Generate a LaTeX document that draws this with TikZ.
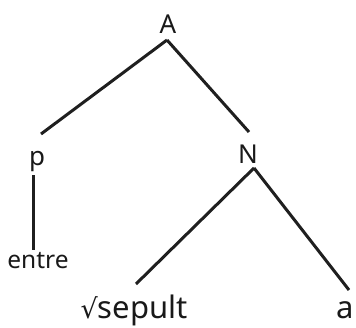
\documentclass[tikz,border=0pt]{standalone}
\usepackage{fontspec}
\setmainfont{Noto Sans}
\newfontfamily\symfont{DejaVu Sans}
\begin{document}
\begin{tikzpicture}[x=1pt,y=-1pt,
  lbl/.style={anchor=base,inner sep=0pt,text=black!90},
  big/.style={lbl,font=\fontsize{26}{26}\selectfont},
  mid/.style={lbl,font=\fontsize{24.5}{24.5}\selectfont},
  lrg/.style={lbl,font=\fontsize{31}{31}\selectfont},
  edge/.style={line width=3pt,draw=black!88}]
\useasboundingbox (0,0) rectangle (356,327);
\node[big] (A) at (168,33) {A};
\node[big] (p) at (37,165) {p};
\node[big] (N) at (248,163) {N};
\node[mid] (entre) at (38,268) {entre};
\node[lrg] (sepult) at (134,318) {{\symfont\fontsize{27}{27}\selectfont √}sepult};
\node[lrg] (a) at (345,318) {a};
\coordinate (A-bot) at (167,40);
\coordinate (p-top) at (41,134);
\coordinate (N-top0) at (249,132);
\coordinate (p-bot) at (33,175);
\coordinate (entre-top) at (33,250);
\coordinate (N-bot) at (254,168);
\coordinate (sepult-top) at (136,284);
\coordinate (a-top) at (349,290);
\draw[edge] (A-bot) -- (p-top);
\draw[edge] (A-bot) -- (N-top0);
\draw[edge] (p-bot) -- (entre-top);
\draw[edge] (N-bot) -- (sepult-top);
\draw[edge] (N-bot) -- (a-top);
\end{tikzpicture}
\end{document}
